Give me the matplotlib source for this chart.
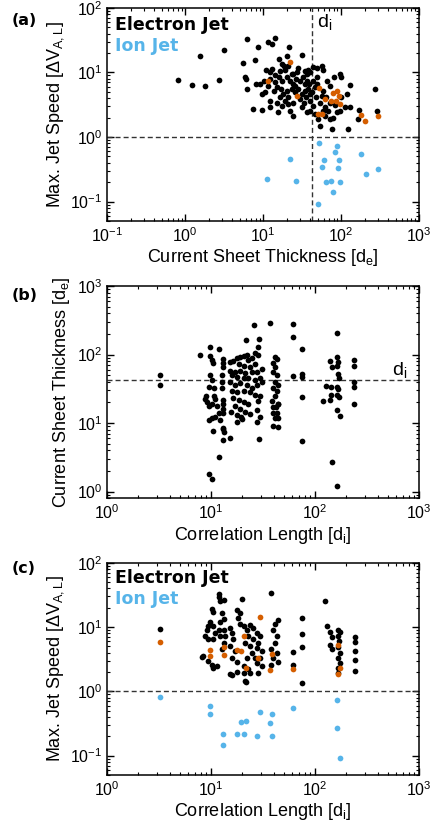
import numpy as np
import matplotlib
matplotlib.use("Agg")
import matplotlib.pyplot as plt
from matplotlib.ticker import LogLocator, NullFormatter

plt.rcParams['font.family'] = ['Liberation Sans', 'DejaVu Sans']
plt.rcParams['mathtext.default'] = 'regular'

# colours
BLACK = '#000000'
ORANGE = '#D55E00'
BLUE = '#56B4E9'

D_I = 42.8  # ion inertial length in d_e

# ---- panel (a): current sheet thickness [d_e] vs max jet speed
a_electron = [
    (0.82, 7.6), (1.24, 6.4), (1.56, 17.7), (1.82, 6.2), (2.73, 7.7), (3.19, 22.4),
    (6.3, 32.8), (8.5, 25.2), (11.4, 29.8), (13.0, 28), (14.3, 34), (21.8, 25.2),
    (5.6, 13.8), (7.8, 15.5), (15.9, 16.1), (20.5, 17.9), (31.6, 18.8), (5.9, 8.6),
    (6.1, 7.9), (8.0, 6.6), (6.2, 5.6),
    (11.0, 10.9), (12.3, 10), (13.0, 11.5), (14.3, 9.2), (17.7, 13.5), (18.6, 12.4),
    (19.1, 10.9), (20.7, 12.7), (24.5, 9.4), (28.4, 11.9), (34.5, 10.6), (36.3, 9.4),
    (38.1, 10.9), (40, 10), (43.4, 12.2), (49.8, 11.9), (57, 12.5), (59.4, 10.9),
    (10.3, 7.4), (9.0, 6.6), (11.4, 6.2), (12.3, 7.9), (14.3, 7.0), (16.2, 8.4),
    (17.5, 7.3), (20.1, 8.4), (22.2, 7.4), (24.5, 6.6), (26.5, 7.9), (29.8, 7.4),
    (32.9, 8.4), (36.3, 7.4), (39.3, 6.6), (44.2, 7.4), (48.8, 8.4),
    (9.6, 4.6), (10.6, 4.9), (13.6, 5.2), (15, 5.9), (16.8, 5.5), (18.2, 4.6),
    (20.1, 5.2), (23.3, 5.5), (25.7, 4.9), (28.4, 5.5), (31.3, 4.6), (34.5, 5.2),
    (38.1, 5.5), (42, 4.9), (46.4, 5.9), (49.8, 6.6), (59.4, 5.2), (66.8, 7.3),
    (72.3, 6.2), (81.3, 8.4), (97, 9.4), (99, 8.4), (130, 6.4),
    (12.3, 3.6), (12.1, 2.9), (15, 3.4), (17.3, 3.05), (19.1, 3.6), (21.1, 3.2),
    (24.5, 3.4), (29.8, 3.9), (33.6, 3.4), (40, 3.6), (43.4, 3.05), (47.8, 4.1),
    (53.8, 3.4), (62.4, 2.9), (72.3, 3.4), (83.8, 3.16), (99, 4.1), (112, 2.9),
    (120, 4.7), (130, 2.9),
    (7.4, 2.7), (9.6, 2.6), (15.7, 2.4), (22.2, 2.55), (24.5, 2.1), (31.3, 2.9),
    (36.3, 2.4), (40, 2.55), (46.4, 2.27), (51.2, 1.9), (62.4, 2.1), (72.3, 1.9),
    (79.8, 2.0), (97, 2.55), (172, 2.6), (167, 1.9), (275, 5.5), (290, 2.5),
    (53.8, 1.5), (76, 1.33), (124, 1.33),
    (27.4, 10), (23.3, 9.4), (16.5, 10.6), (25.7, 6.2), (34.5, 6.6), (21.1, 4.1),
    (16.5, 4.1), (35.4, 4.1), (40, 4.6), (56.5, 4.35), (65, 4.1), (68.6, 2.55),
    (88, 2.4), (59.4, 2.55),
]
a_electron_ion_like = [
    (22.2, 14.5), (11.4, 7.4), (27, 4.35), (52.7, 5.7), (63, 3.9), (79.8, 4.85),
    (89.7, 5.2), (93.3, 4.3), (75, 3.6), (86, 3.6), (97, 3.2), (50.7, 2.27),
    (56.5, 2.27), (182, 2.19), (205, 1.79), (298, 2.09),
]
a_ion = [
    (51.8, 0.80), (22.2, 0.46), (11.1, 0.22), (26.5, 0.21), (61, 0.44), (56.5, 0.34),
    (64.9, 0.20), (74.5, 0.21), (78.2, 0.14), (84.6, 0.59), (89.7, 0.72), (93.3, 0.44),
    (90.6, 0.33), (97, 0.20), (50.2, 0.091), (181, 0.55), (207, 0.27), (301, 0.32),
]

# ---- panel (b): correlation length [d_i] vs current sheet thickness [d_e]
b_points = [
    (3.2, 51), (3.2, 35.8), (7.9, 97), (9.8, 127), (11.8, 119), (21.5, 162),
    (25.9, 271), (36.9, 292), (29.2, 169), (61, 282), (61, 180), (74.5, 122),
    (163, 205), (62, 48), (74.5, 52), (74.5, 47), (74.5, 24), (237, 82), (237, 69),
    (237, 40), (237, 33.6), (237, 18.8),
    (163, 92), (168, 78), (163, 67), (165, 52), (170, 46), (163, 34), (166, 31),
    (163, 25.7), (170, 24), (163, 15.3), (172, 12.9), (163, 1.22), (144, 2.7),
    (140, 81), (144, 65), (143, 34), (143, 26), (140, 22), (120, 21), (128, 35),
    (74.5, 5.5), (29.2, 5.9), (15.2, 6.0), (12.9, 5.7), (11.8, 3.2), (9.6, 1.8),
    (10.3, 1.55), (10.5, 7.7), (12.9, 8.1), (13.2, 7.5), (39.7, 9.1), (44.4, 8.8),
    (27.5, 10.5), (17.9, 10.5), (20, 11.4), (15.5, 14.4), (12.2, 11.1), (9.6, 11.1),
    (10.2, 11.7), (39.7, 14.1), (44.4, 19), (42, 17.1), (44.4, 11.7), (38.5, 21),
    (9.8, 95), (10.1, 83), (10.4, 75), (13.1, 85), (13.1, 75), (13.1, 65),
    (15.2, 77), (16.4, 81), (17.7, 89), (19, 93), (20.5, 95), (22, 99), (22.8, 83),
    (24.6, 89), (26.5, 105), (28.5, 97), (28.5, 128), (18.4, 73), (20.5, 69),
    (23.7, 66), (26.5, 73), (15.2, 58), (17, 55), (19, 58), (21.3, 53), (24.6, 55),
    (27.5, 55), (30.7, 62), (15.8, 50), (17.7, 47), (20.5, 45), (22.8, 46),
    (26.5, 43), (29.6, 45), (15.2, 40), (17, 36), (19, 38), (22, 36), (24.6, 32),
    (27.5, 36), (30.7, 40), (15.8, 29), (17.7, 28), (20.5, 29), (23.7, 28),
    (26.5, 26), (16.4, 23.5), (18.4, 22), (20.5, 20), (22.8, 19), (28.5, 21),
    (29.6, 24.5), (17, 18), (19, 16), (21.3, 14.5), (23.7, 13.5), (27.5, 15.3),
    (29.6, 12.4), (17.7, 13), (19.5, 12.4),
    (13.1, 22), (13.1, 19), (13.1, 16), (13.1, 14), (12.7, 50), (12.7, 40),
    (12.7, 32), (9.8, 50), (10.1, 42), (9.6, 34), (10.6, 32), (9.0, 24.5),
    (8.8, 22.5), (9.1, 20.5), (9.6, 17.5), (10.2, 19), (10.6, 24.5), (11, 22.5),
    (11.5, 17.5), (12, 14), (11, 12.4),
    (41, 93), (42.8, 85), (39.7, 75), (41, 65), (39.7, 56), (42.8, 50), (41, 40),
    (44.4, 36), (39.7, 33), (42.8, 29), (41, 24.5), (44.4, 19), (39.7, 17),
    (42.8, 14), (41, 12), (13.1, 8.4),
]

# ---- panel (c): correlation length [d_i] vs max jet speed
c_electron = [
    (3.2, 9.2), (8.1, 3.4),
    (12, 33), (12, 29), (12.2, 25), (13.2, 26), (19.7, 27), (38, 34), (10.1, 19),
    (10.5, 17), (12.6, 16.3), (13.2, 13.5), (12.2, 12), (17.7, 18.5), (19, 16.3),
    (18.3, 13.8), (9.8, 12), (9.4, 10.2), (9.1, 8.9), (8.7, 7.2), (9.4, 6.4),
    (10.5, 10.2), (10.9, 8), (10.5, 6.4), (12, 9), (12.2, 7.2), (13.2, 9),
    (13.7, 7.2), (13.2, 5.7), (12.6, 4.5), (15.2, 9.6), (15.8, 8), (16.4, 6.4),
    (15.2, 5), (17, 4.2), (15.8, 3.3), (17.7, 2.9),
    (19, 11.3), (20.5, 10.2), (22, 9), (22.8, 7.2), (21.3, 5.7), (23.7, 5),
    (25.5, 6.4), (24.6, 4), (26.5, 3.3), (22, 3.3), (20.5, 2.5), (22.8, 2.2),
    (23.7, 1.95), (17.7, 2), (15.8, 1.8),
    (23.7, 10.8), (25.5, 9.6), (27.5, 8), (29.6, 7.2), (28.5, 5.7), (27.5, 4.7),
    (30.7, 4.3), (29.6, 3.3), (27.5, 2.8), (30.7, 2.5), (28.5, 1.96),
    (41, 11.3), (44.4, 12.9), (39.7, 9), (42.8, 7.2), (41, 5.7), (38, 4.5),
    (42.8, 4), (39.7, 3.3), (44.4, 2.9), (38, 2.6),
    (74.5, 13.7), (74.5, 7.7), (74.5, 4.8), (62, 4.1), (62, 2.6), (74.5, 1.37),
    (8.4, 3.5), (9.4, 3), (10.1, 2.6), (11.3, 2.5), (10.5, 2.3), (15.2, 1.85),
    (20.5, 1.96), (21.2, 1.46), (21.5, 1.38),
    (125, 25.5), (129, 10.2), (139, 8.5), (144, 6.9), (139, 5.3), (144, 4.6),
    (166, 9.1), (173, 8.5), (166, 7.2), (170, 6.0), (166, 4.8), (173, 4.0),
    (166, 3.3), (173, 2.8), (166, 2.3), (166, 1.9), (243, 7.1), (243, 5.8),
    (243, 4.2), (243, 3.1), (243, 2.1),
]
c_electron_ion_like = [
    (3.2, 5.8), (9.8, 4.4), (9.7, 3.5), (13.2, 4.8), (13.2, 3.65), (17.7, 4.4),
    (19.3, 4.25), (20.5, 7.3), (21.5, 2.33), (29.6, 14.5), (28, 3.25), (38.5, 3.8),
    (37, 2.15), (62, 2.2), (166, 5.2), (166, 1.85), (173, 2.3),
]
c_ion = [
    (3.2, 0.83), (9.8, 0.60), (9.8, 0.44), (12.9, 0.22), (12.9, 0.145), (17.8, 0.22),
    (19.4, 0.33), (20.6, 0.214), (21.7, 0.34), (27.9, 0.204), (29.6, 0.47),
    (37.2, 0.32), (38.6, 0.44), (38.6, 0.204), (62, 0.55), (163, 0.72), (163, 0.27),
    (173, 0.093),
]


def dots(ax, pts, color):
    x, y = np.array(pts).T
    ax.scatter(x, y, s=17, c=color, linewidths=0, zorder=3)


def style(ax, xlim, ylim):
    ax.set_xscale('log')
    ax.set_yscale('log')
    ax.set_xlim(*xlim)
    ax.set_ylim(*ylim)
    for axis in (ax.xaxis, ax.yaxis):
        axis.set_major_locator(LogLocator(base=10, numticks=10))
        axis.set_minor_locator(LogLocator(base=10, subs=np.arange(2, 10), numticks=10))
        axis.set_minor_formatter(NullFormatter())
    ax.tick_params(which='both', direction='in', top=True, right=True, labelsize=11.5)
    ax.tick_params(which='major', length=5, width=1.0)
    ax.tick_params(which='minor', length=2.5, width=0.8)
    for sp in ax.spines.values():
        sp.set_linewidth(1.1)


fig = plt.figure(figsize=(4.32, 8.31), dpi=100)
ax_a = fig.add_axes([0.248, 0.734, 0.722, 0.2565])
ax_b = fig.add_axes([0.248, 0.4004, 0.722, 0.2554])
ax_c = fig.add_axes([0.248, 0.0674, 0.722, 0.2555])

dash = dict(color='#333333', lw=1.0, linestyle=(0, (3.6, 2.2)), zorder=2)
legend_font = dict(family='DejaVu Sans', fontweight='bold', fontsize=12.5)

# (a)
style(ax_a, (0.1, 1000), (0.05, 100))
dots(ax_a, a_electron, BLACK)
dots(ax_a, a_electron_ion_like, ORANGE)
dots(ax_a, a_ion, BLUE)
ax_a.axhline(1.0, **dash)
ax_a.axvline(D_I, **dash)
ax_a.text(D_I * 1.16, 60, 'd$_i$', fontsize=14, va='center', ha='left')
ax_a.text(0.025, 0.922, 'Electron Jet', transform=ax_a.transAxes, color=BLACK,
          va='center', **legend_font)
ax_a.text(0.025, 0.822, 'Ion Jet', transform=ax_a.transAxes, color=BLUE,
          va='center', **legend_font)
ax_a.set_xlabel('Current Sheet Thickness [d$_e$]', fontsize=13, labelpad=2)
ax_a.set_ylabel('Max. Jet Speed [ΔV$_{A,L}$]', fontsize=13, labelpad=3)

# (b)
style(ax_b, (1, 1000), (0.8, 1000))
dots(ax_b, b_points, BLACK)
ax_b.axhline(D_I, **dash)
ax_b.text(650, 60, 'd$_i$', fontsize=14, va='center', ha='center')
ax_b.set_xlabel('Correlation Length [d$_i$]', fontsize=13, labelpad=2)
ax_b.set_ylabel('Current Sheet Thickness [d$_e$]', fontsize=13, labelpad=3)

# (c)
style(ax_c, (1, 1000), (0.05, 100))
dots(ax_c, c_electron, BLACK)
dots(ax_c, c_electron_ion_like, ORANGE)
dots(ax_c, c_ion, BLUE)
ax_c.axhline(1.0, **dash)
ax_c.text(0.025, 0.93, 'Electron Jet', transform=ax_c.transAxes, color=BLACK,
          va='center', **legend_font)
ax_c.text(0.025, 0.83, 'Ion Jet', transform=ax_c.transAxes, color=BLUE,
          va='center', **legend_font)
ax_c.set_xlabel('Correlation Length [d$_i$]', fontsize=13, labelpad=2)
ax_c.set_ylabel('Max. Jet Speed [ΔV$_{A,L}$]', fontsize=13, labelpad=3)

for label, y in (('(a)', 0.975), ('(b)', 0.645), ('(c)', 0.316)):
    fig.text(0.027, y, label, fontsize=11.5, fontweight='bold', family='DejaVu Sans',
             va='center', ha='left')

fig.savefig('out.png', dpi=100)
